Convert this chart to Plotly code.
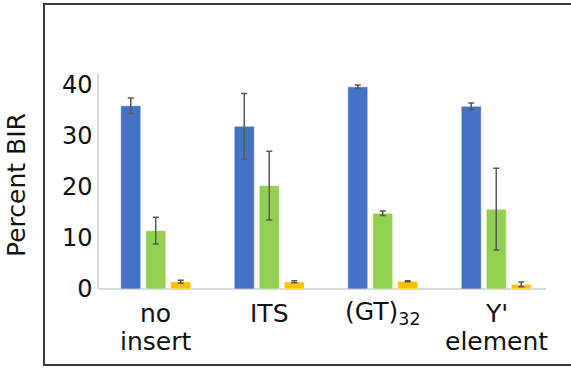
import plotly.graph_objects as go

categories = ["no insert", "ITS", "(GT)32", "Y' element"]
label_line1 = ["no", "ITS", "(GT)<sub>32</sub>", "Y'"]
label_line2 = ["insert", "", "", "element"]

blue_vals = [35.8, 31.8, 39.5, 35.7]
blue_err = [1.5, 6.4, 0.35, 0.65]
green_vals = [11.4, 20.2, 14.8, 15.6]
green_err = [2.6, 6.7, 0.45, 8.0]
yellow_vals = [1.4, 1.4, 1.5, 0.9]
yellow_err = [0.3, 0.2, 0.1, 0.45]

y_ticks = [0, 10, 20, 30, 40]

FONT = "DejaVu Sans"
W, H = 571, 368
ML, MR, MT, MB = 99, 18, 73, 79
PW, PH = W - ML - MR, H - MT - MB
YMAX = 42.2


def px_x(p):
    return (p - ML) / PW


def px_y(p):
    return (H - MB - p) / PH


fig = go.Figure()
for vals, errs, col in [
    (blue_vals, blue_err, "#4472C4"),
    (green_vals, green_err, "#92D050"),
    (yellow_vals, yellow_err, "#FFC000"),
]:
    fig.add_trace(go.Bar(
        x=categories, y=vals,
        marker=dict(color=col, line=dict(color="rgba(255,255,255,0.55)", width=1)),
        error_y=dict(type="data", array=errs, visible=True, color="#595959",
                     thickness=1.5, width=3),
        showlegend=False,
    ))

annotations = []
for i, (l1, l2) in enumerate(zip(label_line1, label_line2)):
    annotations.append(dict(x=categories[i], xref="x", y=px_y(313), yref="paper",
                            text=l1, showarrow=False, yanchor="middle",
                            font=dict(family=FONT, size=25, color="#111")))
    if l2:
        annotations.append(dict(x=categories[i], xref="x", y=px_y(341), yref="paper",
                                text=l2, showarrow=False, yanchor="middle",
                                font=dict(family=FONT, size=25, color="#111")))
annotations.append(dict(x=px_x(16), xref="paper", y=px_y(185), yref="paper",
                        text="Percent BIR", textangle=-90, showarrow=False,
                        xanchor="center", yanchor="middle",
                        font=dict(family=FONT, size=25, color="#111")))

shapes = [
    dict(type="rect", xref="paper", yref="paper",
         x0=px_x(44), x1=px_x(600), y0=px_y(365), y1=px_y(4),
         line=dict(color="#3a3a3a", width=2), layer="above"),
    dict(type="line", xref="paper", yref="paper",
         x0=0, x1=px_x(546), y0=0, y1=0,
         line=dict(color="#D9D9D9", width=2), layer="below"),
]

fig.update_layout(
    width=W, height=H,
    margin=dict(l=ML, r=MR, t=MT, b=MB),
    paper_bgcolor="white", plot_bgcolor="white",
    barmode="group", bargap=0.339, bargroupgap=0.2,
    font=dict(family=FONT, size=24, color="#111"),
    xaxis=dict(showticklabels=False, showline=False, showgrid=False, zeroline=False,
               fixedrange=True),
    yaxis=dict(range=[0, YMAX], tickvals=y_ticks, showgrid=False, zeroline=False,
               showline=True, linecolor="#D9D9D9", linewidth=1.5,
               ticks="", tickfont=dict(family=FONT, size=24, color="#111")),
    annotations=annotations,
    shapes=shapes,
)

fig.write_html("out.html", config={"displayModeBar": False},
               post_script="document.body.style.margin='0';")
